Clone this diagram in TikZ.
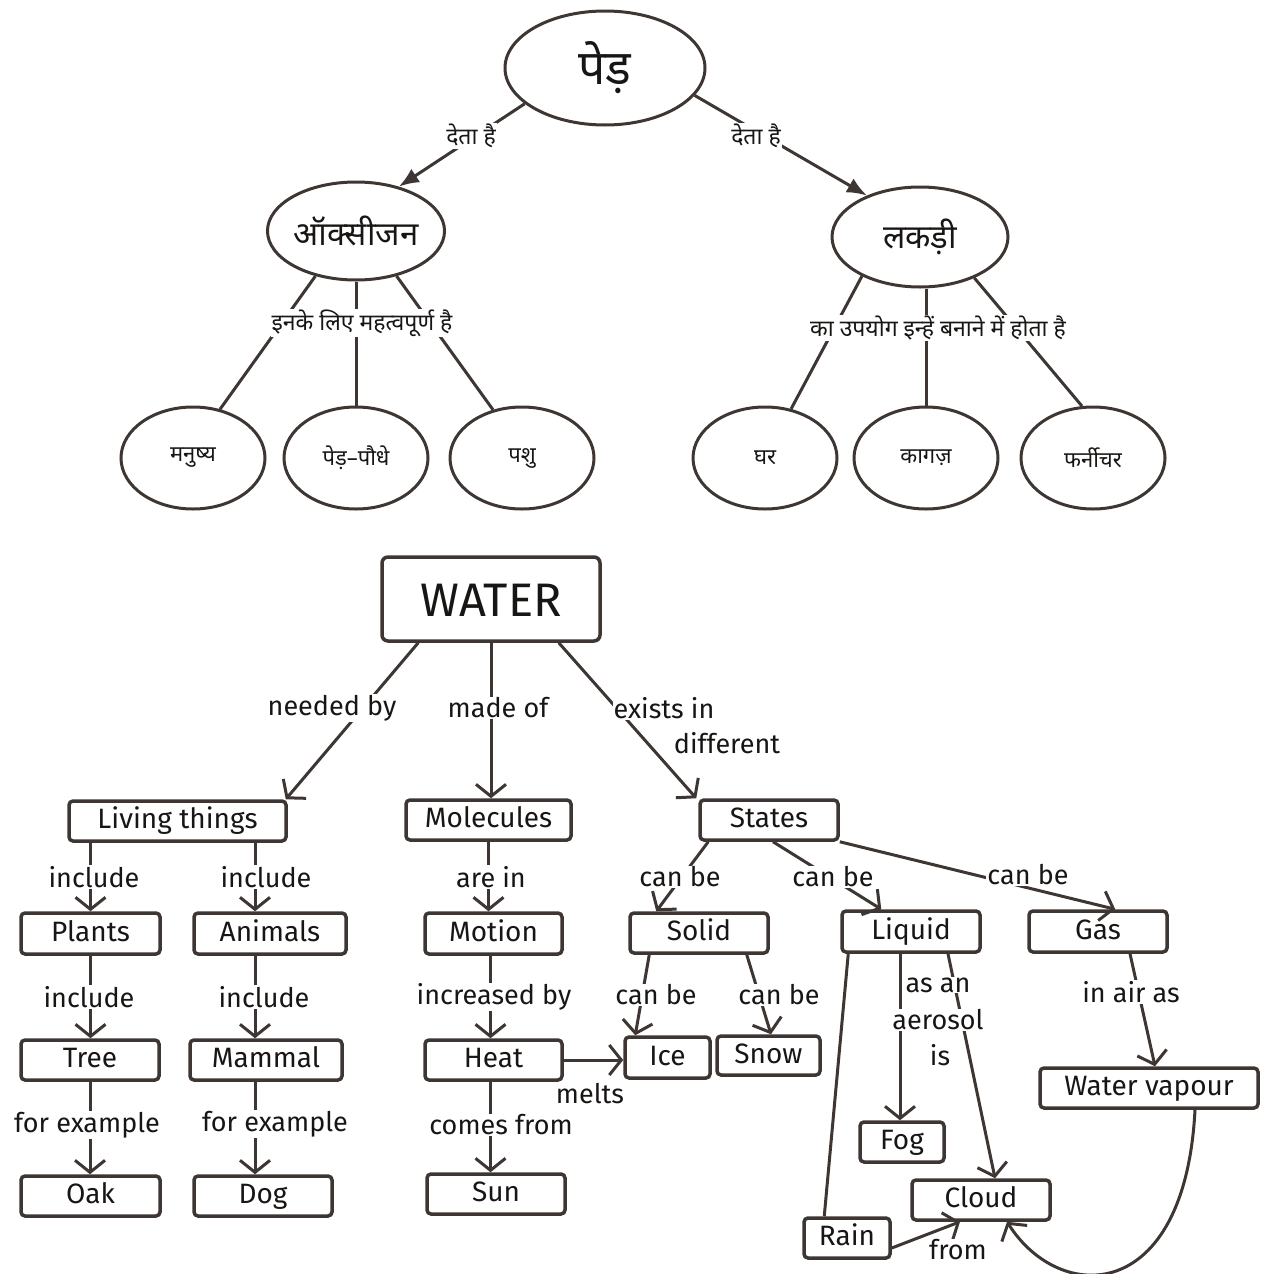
\documentclass[tikz,border=0pt]{standalone}
\usepackage{fontspec}
\newfontfamily\lat{Fira Sans}
\newfontfamily\hindi[Script=Devanagari]{Noto Sans}
\usetikzlibrary{arrows.meta,shapes.geometric}
\definecolor{ln}{RGB}{62,54,50}
\definecolor{tx}{RGB}{24,22,20}
\begin{document}
\begin{tikzpicture}[x=1pt,y=-1pt,
 ell/.style={ellipse,draw=ln,line width=3pt,inner sep=0pt,text=tx},
 hsmall/.style={font=\hindi\fontsize{22}{25}\selectfont},
 hl/.style={font=\hindi\fontsize{23}{26}\selectfont,fill=white,inner sep=1pt,text=tx},
 box/.style={draw=ln,line width=3.5pt,rounded corners=4pt,inner sep=0pt,minimum height=40pt,text height=20pt,text depth=5pt,font=\lat\fontsize{28}{30}\selectfont,text=tx},
 lbl/.style={fill=white,inner sep=1pt,font=\lat\fontsize{27}{29}\selectfont,text=tx},
 con/.style={draw=ln,line width=3pt},
 arr/.style={con,-{Straight Barb[length=12pt,width=30pt]}},
 tarr/.style={con,-{Latex[length=20pt,width=16pt]}}]
\useasboundingbox (0,0) rectangle (1261,1274);
% ---------- top: Hindi ----------
\node[ell,minimum width=200pt,minimum height=114pt,font=\hindi\fontsize{48}{52}\selectfont] (ped) at (605,68) {पेड़};
\node[ell,minimum width=176pt,minimum height=98pt,font=\hindi\fontsize{33}{36}\selectfont] (oxy) at (356,231) {ऑक्सीजन};
\node[ell,minimum width=176pt,minimum height=100pt,font=\hindi\fontsize{33}{36}\selectfont] (lakdi) at (920,237) {लकड़ी};
\node[ell,minimum width=144pt,minimum height=102pt,hsmall] (manushya) at (193,458) {मनुष्य};
\node[ell,minimum width=144pt,minimum height=102pt,hsmall] (pedpaudhe) at (356,458) {पेड़–पौधे};
\node[ell,minimum width=144pt,minimum height=102pt,hsmall] (pashu) at (522,458) {पशु};
\node[ell,minimum width=144pt,minimum height=102pt,hsmall] (ghar) at (765,458) {घर};
\node[ell,minimum width=144pt,minimum height=102pt,hsmall] (kagaz) at (926,458) {कागज़};
\node[ell,minimum width=144pt,minimum height=102pt,hsmall] (furniture) at (1093,458) {फर्नीचर};

\draw[tarr] (ped.204) -- (oxy.46);
\draw[tarr] (ped.-17) -- (lakdi.142);
\draw[con] (oxy.228) -- (manushya.61);
\draw[con] (oxy.south) -- (pedpaudhe.north);
\draw[con] (oxy.-48) -- (pashu.121);
\draw[con] (lakdi.214) -- (ghar.62);
\draw[con] (lakdi.south -| kagaz.north) -- (kagaz.north);
\draw[con] (lakdi.-37) -- (furniture.102);

\node[hl] (l1) at (471,136) {देता है};
\node[hl] (l2) at (756,136) {देता है};
\node[hl] (l3) at (362,323) {इनके लिए महत्वपूर्ण है};
\node[hl] (l4) at (938,328) {का उपयोग इन्हें बनाने में होता है};

% ---------- bottom: WATER ----------
\node[box,minimum width=218pt,minimum height=84pt,rounded corners=6pt,text height=34pt,text depth=0pt,font=\lat\fontsize{47}{52}\selectfont] (water) at (491,599) {WATER};
\node[box,minimum width=217pt] (living) at (177.5,821) {Living things};
\node[box,minimum width=165pt] (molecules) at (488.5,820) {Molecules};
\node[box,minimum width=138pt] (states) at (769,820) {States};
\node[box,minimum width=139pt,minimum height=41pt] (plants) at (90.5,933.5) {Plants};
\node[box,minimum width=152pt,minimum height=41pt] (animals) at (270,933.5) {Animals};
\node[box,minimum width=137pt,minimum height=41pt] (motion) at (493.5,933.5) {Motion};
\node[box,minimum width=138pt] (solid) at (699,933) {Solid};
\node[box,minimum width=138pt,minimum height=41pt] (liquid) at (911,931.5) {Liquid};
\node[box,minimum width=138pt,minimum height=41pt] (gas) at (1098,931.5) {Gas};
\node[box,minimum width=138pt] (tree) at (90,1060) {Tree};
\node[box,minimum width=152pt] (mammal) at (266,1060) {Mammal};
\node[box,minimum width=137pt] (heat) at (493.5,1060) {Heat};
\node[box,minimum width=85pt,minimum height=41pt] (ice) at (667.5,1057.5) {Ice};
\node[box,minimum width=103pt,minimum height=39pt] (snow) at (768.5,1055.5) {Snow};
\node[box,minimum width=218pt] (wv) at (1149,1088) {Water vapour};
\node[box,minimum width=84pt] (fog) at (902,1142) {Fog};
\node[box,minimum width=138pt] (cloud) at (981,1200) {Cloud};
\node[box,minimum width=86pt] (rain) at (847,1238) {Rain};
\node[box,minimum width=139pt] (oak) at (90.5,1196) {Oak};
\node[box,minimum width=138pt] (dog) at (263,1196) {Dog};
\node[box,minimum width=138pt] (sun) at (496,1194) {Sun};

\coordinate (anx) at ([xshift=-15pt]animals.north);
\coordinate (asx) at ([xshift=-15pt]animals.south);

\draw[arr] ([xshift=38pt]water.south west) -- ([xshift=-2pt]living.north east);
\draw[arr] (water.south) -- (water.south |- molecules.north);
\draw[arr] ([xshift=-43pt]water.south east) -- ([xshift=-2pt]states.north west);
\draw[arr] (plants.north |- living.south) -- (plants.north);
\draw[arr] (anx |- living.south) -- (anx);
\draw[arr] (plants.south) -- (plants.south |- tree.north);
\draw[arr] (asx) -- (asx |- mammal.north);
\draw[arr] (tree.south) -- (tree.south |- oak.north);
\draw[arr] ([xshift=-11pt]mammal.south) -- ([xshift=-8pt]dog.north);
\draw[arr] (molecules.south) -- (molecules.south |- motion.north);
\draw[arr] ([xshift=-3pt]motion.south) -- ([xshift=-3pt]heat.north);
\draw[arr] ([xshift=-3pt]heat.south) -- ([xshift=-3pt]heat.south |- sun.north);
\draw[arr] (heat.east) -- (heat.east -| ice.west);
\draw[arr] ([xshift=10pt]states.south west) -- ([xshift=28pt]solid.north west);
\draw[arr] ([xshift=4pt]states.south) -- ([xshift=41pt]liquid.north west);
\draw[arr] (states.south east) -- ([xshift=88pt]gas.north west);
\draw[arr] ([xshift=21pt]solid.south west) -- ([xshift=12pt]ice.north west);
\draw[arr] ([xshift=-23pt]solid.south east) -- ([xshift=2.5pt]snow.north);
\draw[arr] ([xshift=32pt]gas.south) -- ([xshift=6pt]wv.north);
\draw[arr] ([xshift=-2pt]fog.north |- liquid.south) -- ([xshift=-2pt]fog.north);
\draw[arr] ([xshift=37pt]liquid.south) -- ([xshift=14pt]cloud.north);
\draw[con] ([xshift=8pt]liquid.south west) -- ([xshift=22pt]rain.north west);
\draw[arr] ([yshift=-10pt]rain.east) -- ([xshift=-21pt]cloud.south);
\draw[arr] ([xshift=46pt]wv.south) .. controls (1185,1305) and (1060,1305) .. ([xshift=26pt]cloud.south);

\node[lbl] (t1) at (332,708) {needed by};
\node[lbl] (t2) at (498,708) {made of};
\node[lbl] (t3) at (664,708) {exists in};
\node[lbl] (t4) at (727,743) {different};
\node[lbl] (t5) at (94,877) {include};
\node[lbl] (t6) at (266,877) {include};
\node[lbl] (t7) at (89,997) {include};
\node[lbl] (t8) at (264,997) {include};
\node[lbl] (t9) at (87,1125) {for example};
\node[lbl] (t10) at (275,1124) {for example};
\node[lbl] (t11) at (491,877) {are in};
\node[lbl] (t12) at (494,997) {increased by};
\node[lbl] (t13) at (501,1125) {comes from};
\node[lbl] (t14) at (590,1094) {melts};
\node[lbl] (t15) at (680,877) {can be};
\node[lbl] (t16) at (833,877) {can be};
\node[lbl] (t17) at (1028,875) {can be};
\node[lbl] (t18) at (656,995) {can be};
\node[lbl] (t19) at (779,995) {can be};
\node[lbl] (t20) at (938,985) {as an};
\node[lbl] (t21) at (938,1020) {aerosol};
\node[lbl] (t22) at (940,1055) {is};
\node[lbl] (t23) at (1131,992) {in air as};
\node[lbl] (t24) at (958,1250) {from};
\end{tikzpicture}
\end{document}
